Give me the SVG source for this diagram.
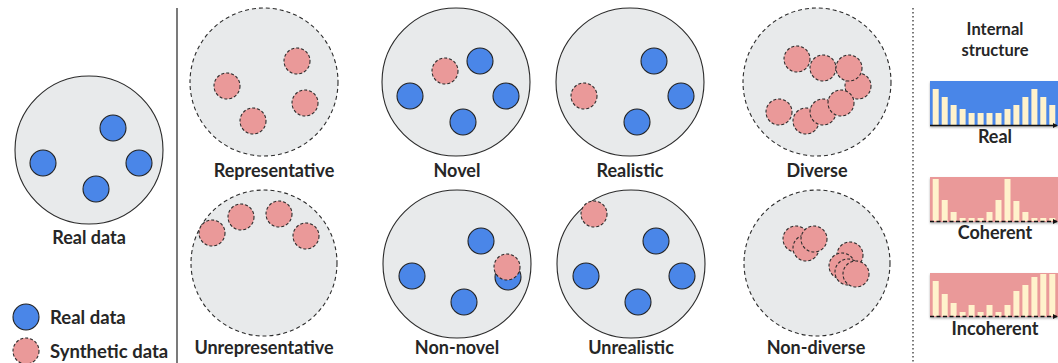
<svg xmlns="http://www.w3.org/2000/svg" width="1058" height="363" viewBox="0 0 1058 363">
  <defs>
    <style>
      .set { fill: #e8eaeb; stroke: #2b2b2b; stroke-width: 1.1; }
      .set-d { fill: #e8eaeb; stroke: #2b2b2b; stroke-width: 1.1; stroke-dasharray: 4 3; }
      .real { fill: #4a86e8; stroke: #222; stroke-width: 1.1; }
      .syn { fill: #ea9999; stroke: #2b2b2b; stroke-width: 1.1; stroke-dasharray: 3 2; }
      .lbl { font-family: Lato, "Open Sans", sans-serif; font-weight: 700; font-size: 18px; fill: #262626; text-anchor: middle; }
      .ttl { font-family: Lato, "Open Sans", sans-serif; font-weight: 700; font-size: 16.5px; fill: #262626; text-anchor: middle; }
      .leg { font-family: Lato, "Open Sans", sans-serif; font-weight: 700; font-size: 18.5px; fill: #262626; }
      .bar { fill: #fff2cc; }
      .axis { stroke: #111; stroke-width: 1.6; fill: none; }
      .axis-d { stroke: #111; stroke-width: 1.6; fill: none; stroke-dasharray: 4 2.5; }
    </style>
    <marker id="tip" viewBox="0 0 6 6" refX="5" refY="3" markerWidth="5" markerHeight="5" orient="auto" markerUnits="userSpaceOnUse">
      <path d="M0,0 L6,3 L0,6 z" fill="#111"/>
    </marker>
    <filter id="shade" x="-5%" y="-10%" width="110%" height="130%">
      <feDropShadow dx="0" dy="1.5" stdDeviation="1.2" flood-color="#000" flood-opacity="0.3"/>
    </filter>
  </defs>

  <!-- separators -->
  <g id="separators">
    <line x1="177" y1="8" x2="177" y2="363" stroke="#222" stroke-width="1.2"/>
    <line x1="913" y1="8" x2="913" y2="363" stroke="#222" stroke-width="1.2" stroke-dasharray="1.5 2.5"/>
  </g>

  <!-- reference set -->
  <g id="real-data">
    <circle class="set" cx="89" cy="150" r="74"/>
    <circle class="real" cx="113" cy="128" r="13"/>
    <circle class="real" cx="43" cy="163" r="13"/>
    <circle class="real" cx="139" cy="163" r="13"/>
    <circle class="real" cx="96" cy="189" r="13"/>
    <text class="lbl" x="89" y="244">Real data</text>
  </g>

  <!-- legend -->
  <g id="legend">
    <circle class="real" cx="26" cy="317" r="13"/>
    <text class="leg" x="50" y="324">Real data</text>
    <circle class="syn" cx="26" cy="351" r="13"/>
    <text class="leg" x="50" y="358">Synthetic data</text>
  </g>

  <g id="representative">
    <circle class="set-d" cx="264" cy="82" r="74"/>
    <circle class="syn" cx="297" cy="61" r="13"/>
    <circle class="syn" cx="227" cy="86" r="13"/>
    <circle class="syn" cx="305" cy="103" r="13"/>
    <circle class="syn" cx="253" cy="121" r="13"/>
    <text class="lbl" x="274" y="177">Representative</text>
  </g>

  <g id="novel">
    <circle class="set" cx="456" cy="82" r="74"/>
    <circle class="syn" cx="445" cy="71" r="13"/>
    <circle class="real" cx="480" cy="61" r="13"/>
    <circle class="real" cx="410" cy="96" r="13"/>
    <circle class="real" cx="506" cy="96" r="13"/>
    <circle class="real" cx="463" cy="122" r="13"/>
    <text class="lbl" x="457" y="177">Novel</text>
  </g>

  <g id="realistic">
    <circle class="set" cx="630" cy="82" r="74"/>
    <circle class="real" cx="654" cy="61" r="13"/>
    <circle class="syn" cx="584" cy="96" r="13" stroke-dasharray="none"/>
    <circle class="real" cx="681" cy="96" r="13"/>
    <circle class="real" cx="637" cy="122" r="13"/>
    <text class="lbl" x="630" y="177">Realistic</text>
  </g>

  <g id="diverse">
    <circle class="set-d" cx="817" cy="82" r="74"/>
    <circle class="syn" cx="797" cy="59" r="13"/>
    <circle class="syn" cx="823" cy="68" r="13"/>
    <circle class="syn" cx="858" cy="86" r="13"/>
    <circle class="syn" cx="849" cy="68" r="13"/>
    <circle class="syn" cx="779" cy="112" r="13"/>
    <circle class="syn" cx="806" cy="121" r="13"/>
    <circle class="syn" cx="823" cy="112" r="13"/>
    <circle class="syn" cx="841" cy="103" r="13"/>
    <text class="lbl" x="817" y="177">Diverse</text>
  </g>

  <g id="unrepresentative">
    <circle class="set-d" cx="264" cy="263" r="73"/>
    <circle class="syn" cx="212" cy="233" r="13"/>
    <circle class="syn" cx="241" cy="217" r="13"/>
    <circle class="syn" cx="279" cy="214" r="13"/>
    <circle class="syn" cx="306" cy="236" r="13"/>
    <text class="lbl" x="264" y="354">Unrepresentative</text>
  </g>

  <g id="non-novel">
    <circle class="set" cx="457" cy="264" r="74"/>
    <circle class="real" cx="481" cy="241" r="13"/>
    <circle class="real" cx="412" cy="276" r="13"/>
    <circle class="real" cx="464" cy="302" r="13"/>
    <circle class="real" cx="508" cy="277" r="13"/>
    <circle class="syn" cx="507" cy="267" r="13"/>
    <text class="lbl" x="457" y="354">Non-novel</text>
  </g>

  <g id="unrealistic">
    <circle class="set" cx="631" cy="264" r="74"/>
    <circle class="syn" cx="594" cy="214" r="13"/>
    <circle class="real" cx="656" cy="241" r="13"/>
    <circle class="real" cx="586" cy="276" r="13"/>
    <circle class="real" cx="682" cy="276" r="13"/>
    <circle class="real" cx="638" cy="302" r="13"/>
    <text class="lbl" x="631" y="354">Unrealistic</text>
  </g>

  <g id="non-diverse">
    <circle class="set-d" cx="817" cy="263" r="73"/>
    <circle class="syn" cx="796" cy="239" r="13"/>
    <circle class="syn" cx="806" cy="248" r="13"/>
    <circle class="syn" cx="814" cy="239" r="13"/>
    <circle class="syn" cx="850" cy="255" r="13"/>
    <circle class="syn" cx="842" cy="266" r="13"/>
    <circle class="syn" cx="848" cy="272" r="13"/>
    <circle class="syn" cx="856" cy="274" r="13"/>
    <text class="lbl" x="816" y="354">Non-diverse</text>
  </g>

  <!-- internal structure panel -->
  <g id="structure-title">
    <text class="ttl" x="995" y="35">Internal</text>
    <text class="ttl" x="995" y="56">structure</text>
  </g>

  <g id="chart-real">
    <rect x="930" y="81" width="130" height="45" fill="#4a86e8" filter="url(#shade)"/>
    <g class="bar">
      <rect x="932.7" y="89" width="6" height="36"/>
      <rect x="941.7" y="97" width="6" height="28"/>
      <rect x="950.6" y="105" width="6" height="20"/>
      <rect x="959.6" y="109" width="6" height="16"/>
      <rect x="968.6" y="113" width="6" height="12"/>
      <rect x="977.6" y="113" width="6" height="12"/>
      <rect x="986.5" y="113" width="6" height="12"/>
      <rect x="995.5" y="113" width="6" height="12"/>
      <rect x="1004.5" y="109" width="6" height="16"/>
      <rect x="1013.4" y="105" width="6" height="20"/>
      <rect x="1022.4" y="97" width="6" height="28"/>
      <rect x="1031.4" y="89" width="6" height="36"/>
      <rect x="1040.3" y="97" width="6" height="28"/>
      <rect x="1049.3" y="105" width="6" height="20"/>
    </g>
    <line class="axis" x1="930" y1="125.5" x2="1057" y2="125.5" marker-end="url(#tip)"/>
    <text class="lbl" x="995" y="143">Real</text>
  </g>

  <g id="chart-coherent">
    <rect x="930" y="177" width="130" height="45" fill="#ea9999" filter="url(#shade)"/>
    <g class="bar">
      <rect x="932.7" y="179" width="6" height="42"/>
      <rect x="941.7" y="200" width="6" height="21"/>
      <rect x="950.6" y="212" width="6" height="9"/>
      <rect x="959.6" y="218" width="6" height="3"/>
      <rect x="968.6" y="218" width="6" height="3"/>
      <rect x="977.6" y="218" width="6" height="3"/>
      <rect x="986.5" y="212" width="6" height="9"/>
      <rect x="995.5" y="200" width="6" height="21"/>
      <rect x="1004.5" y="179" width="6" height="42"/>
      <rect x="1013.4" y="201" width="6" height="20"/>
      <rect x="1022.4" y="212" width="6" height="9"/>
      <rect x="1031.4" y="218" width="6" height="3"/>
      <rect x="1040.3" y="218" width="6" height="3"/>
      <rect x="1049.3" y="218" width="6" height="3"/>
    </g>
    <line class="axis-d" x1="930" y1="221.5" x2="1057" y2="221.5" marker-end="url(#tip)"/>
    <text class="lbl" x="995" y="239">Coherent</text>
  </g>

  <g id="chart-incoherent">
    <rect x="930" y="273" width="130" height="44" fill="#ea9999" filter="url(#shade)"/>
    <g class="bar">
      <rect x="932.7" y="281" width="6" height="35"/>
      <rect x="941.7" y="294" width="6" height="22"/>
      <rect x="950.6" y="303" width="6" height="13"/>
      <rect x="959.6" y="312" width="6" height="4"/>
      <rect x="968.6" y="305" width="6" height="11"/>
      <rect x="977.6" y="312" width="6" height="4"/>
      <rect x="986.5" y="305" width="6" height="11"/>
      <rect x="995.5" y="312" width="6" height="4"/>
      <rect x="1004.5" y="305" width="6" height="11"/>
      <rect x="1013.4" y="291" width="6" height="25"/>
      <rect x="1022.4" y="285" width="6" height="31"/>
      <rect x="1031.4" y="277" width="6" height="39"/>
      <rect x="1040.3" y="274" width="6" height="42"/>
      <rect x="1049.3" y="274" width="6" height="42"/>
    </g>
    <line class="axis-d" x1="930" y1="316.5" x2="1057" y2="316.5" marker-end="url(#tip)"/>
    <text class="lbl" x="995" y="335">Incoherent</text>
  </g>
</svg>
